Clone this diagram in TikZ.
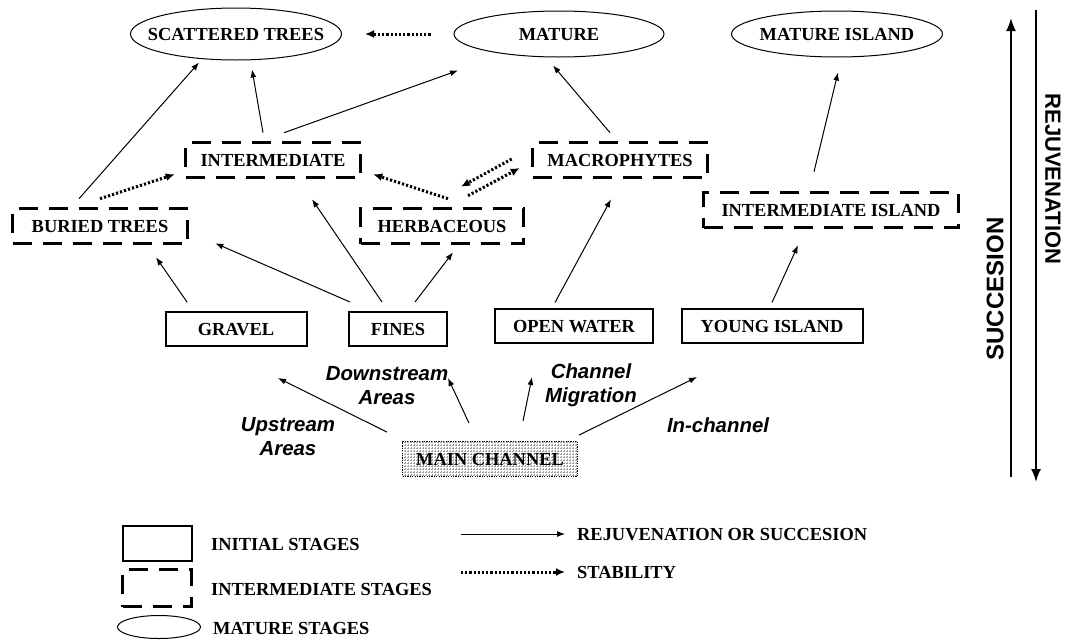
\documentclass[tikz,border=0pt]{standalone}
\usepackage{fontspec}
\setmainfont{Liberation Serif}
\newfontfamily\arialfont{Liberation Sans}
\usetikzlibrary{shapes.geometric,arrows.meta,patterns}

\begin{document}
\begin{tikzpicture}[x=1pt,y=-1pt,
  every node/.style={font=\fontsize{18.4}{20}\selectfont\bfseries,inner sep=0pt},
  caps/.style={text height=12.4pt,text depth=0pt},
  initialstage/.style={caps,draw,line width=2pt,minimum height=34},
  interstage/.style={caps,draw,line width=2.6pt,dash pattern=on 19pt off 11pt,minimum height=35},
  maturestage/.style={caps,draw,ellipse,line width=1pt,inner xsep=-30pt},
  arr/.style={line width=1pt,-{Latex[length=8pt,width=6pt]}},
  stab/.style={line width=3pt,dash pattern=on 2.2pt off 2pt,-{Latex[length=9pt,width=8pt]}},
  sidearr/.style={line width=2pt,-{Latex[length=13pt,width=10pt]}},
  way/.style={font=\arialfont\fontsize{20.4}{24}\selectfont\bfseries\itshape,align=center},
  legend/.style={caps,anchor=west}]
\useasboundingbox (0,0) rectangle (1067,640);

% stages
\foreach \n/\x/\w/\h/\t in {
  scattered/236/211/52/SCATTERED TREES,
  mature/559/210/46/MATURE,
  matisland/837/211/46/MATURE ISLAND}
\node[maturestage,minimum width=\w,minimum height=\h](\n) at (\x,34){\t};

\foreach \n/\x/\y/\w/\t in {
  intermediate/273/160/175/INTERMEDIATE,
  macro/620/160/175/MACROPHYTES,
  buried/100/226/175/BURIED TREES,
  herb/442/226/163/HERBACEOUS,
  intisland/831/210/255/INTERMEDIATE ISLAND}
\node[interstage,minimum width=\w](\n) at (\x,\y){\t};

\foreach \n/\x/\y/\w/\t in {
  gravel/236/329/141/GRAVEL,
  fines/398/329/98/FINES,
  water/574/326/158/OPEN WATER,
  young/772/326/181/YOUNG ISLAND}
\node[initialstage,minimum width=\w](\n) at (\x,\y){\t};

\node[caps,draw,line width=1.8pt,dash pattern=on 1.2pt off 1.2pt,pattern=grid,pattern color=gray!75,
  minimum width=175,minimum height=35](main) at (490,459){MAIN CHANNEL};

% rejuvenation or succesion
\draw[arr] ([xshift=-49,yshift=9]gravel.north) -- ([xshift=56,yshift=-12.5]buried.south);
\draw[arr] ([xshift=-48,yshift=9]fines.north) -- ([xshift=26.5,yshift=1.5]buried.south east);
\draw[arr] ([xshift=-16,yshift=9]fines.north) -- ([xshift=39,yshift=-20.5]intermediate.south);
\draw[arr] ([xshift=17,yshift=9]fines.north) -- ([xshift=11,yshift=-7.5]herb.south);
\draw[arr] ([xshift=-19,yshift=5.5]water.north) -- ([xshift=-9,yshift=-20.5]macro.south);
\draw[arr] ([yshift=5.5]young.north) -- ([xshift=-33,yshift=-16.5]intisland.south);
\draw[arr] ([xshift=-21,yshift=8.5]buried.north) -- ([xshift=-37,yshift=-2]scattered.south);
\draw[arr] ([xshift=-10,yshift=8.5]intermediate.north) -- ([xshift=16,yshift=-9]scattered.south);
\draw[arr] ([xshift=11,yshift=8.5]intermediate.north) -- ([xshift=-101,yshift=-13]mature.south);
\draw[arr] ([xshift=-10,yshift=8.5]macro.north) -- ([xshift=-6,yshift=-8]mature.south);
\draw[arr] ([xshift=-17,yshift=19.5]intisland.north) -- ([xshift=1,yshift=-15]matisland.south);

% stability
\draw[stab] ([xshift=-23]mature.west) -- ([xshift=23]scattered.east);
\draw[stab] ([yshift=8.5]buried.north) -- ([xshift=-9.5,yshift=4.5]intermediate.south west);
\draw[stab] ([xshift=6,yshift=8.5]herb.north) -- ([xshift=11.5,yshift=4.5]intermediate.south east);
\draw[stab] ([xshift=-19.5,yshift=1]macro.west) -- ([xshift=19,yshift=20.5]herb.north);
\draw[stab] ([xshift=26,yshift=11.5]herb.north) -- ([xshift=-11.5,yshift=-8]macro.west);

% from the main channel
\coordinate (up) at (278,378);
\coordinate (down) at (448,378);
\coordinate (migr) at (532,377);
\coordinate (inch) at (697,377);
\draw[arr] ([xshift=-103,yshift=8.5]main.north) -- (up);
\draw[arr] ([xshift=-21,yshift=17.5]main.north) -- (down);
\draw[arr] ([xshift=33,yshift=19.5]main.north) -- (migr);
\draw[arr] ([xshift=0.5,yshift=5.5]main.north east) -- (inch);
\node[way](upstream) at (288,437){Upstream\\Areas};
\node[way](downstream) at (387,386){Downstream\\Areas};
\node[way](migration) at (591,385){Channel\\Migration};
\node[way](inchannel) at (718,425){In-channel};

% succesion and rejuvenation
\coordinate (succ bottom) at (1011,477);
\coordinate (succ top) at (1011,18);
\coordinate (rej top) at (1036,10);
\coordinate (rej bottom) at (1036,482);
\draw[sidearr] (succ bottom) -- (succ top);
\draw[sidearr] (rej top) -- (rej bottom);
\node[font=\arialfont\fontsize{24}{26}\selectfont\bfseries,rotate=90](succesion) at (995,289){SUCCESION};
\node[font=\arialfont\fontsize{22}{24}\selectfont\bfseries,rotate=-90](rejuvenation) at (1053,179){REJUVENATION};

% legend
\node[initialstage,minimum width=69,minimum height=35](leginit) at (157,543){};
\node[interstage,minimum width=69,minimum height=37](leginter) at (157,588){};
\node[maturestage,minimum width=83,minimum height=23](legmat) at (159,627){};
\node[legend](leginittext) at (211,544){INITIAL STAGES};
\node[legend](legintertext) at (211,589){INTERMEDIATE STAGES};
\node[legend](legmattext) at (213,628){MATURE STAGES};
\node[legend](legrej) at (577,534){REJUVENATION OR SUCCESION};
\node[legend](legstab) at (577,572){STABILITY};
\coordinate (legrej start) at (461,534);
\coordinate (legstab start) at (461,572);
\draw[arr] (legrej start) -- ([xshift=-12]legrej.west);
\draw[stab] (legstab start) -- ([xshift=-12]legstab.west);
\end{tikzpicture}
\end{document}
